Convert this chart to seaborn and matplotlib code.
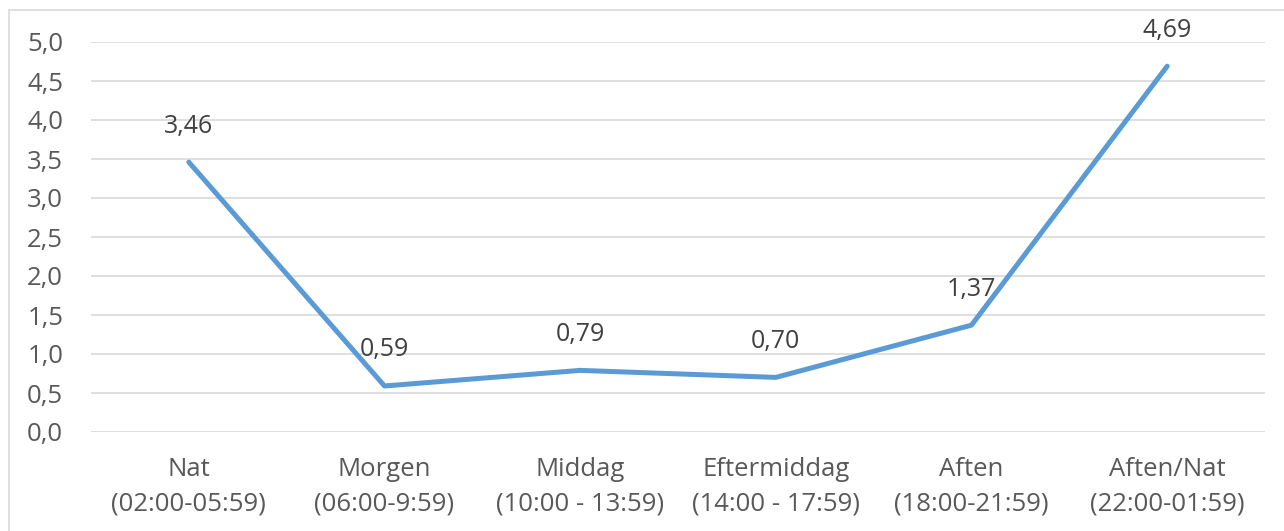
import matplotlib
matplotlib.use("Agg")
import matplotlib.pyplot as plt
import seaborn as sns
import pandas as pd
from matplotlib.patches import Rectangle

categories = ["Nat\n(02:00-05:59)", "Morgen\n(06:00-9:59)", "Middag\n(10:00 - 13:59)",
              "Eftermiddag\n(14:00 - 17:59)", "Aften\n(18:00-21:59)", "Aften/Nat\n(22:00-01:59)"]
values = [3.46, 0.59, 0.79, 0.70, 1.37, 4.69]
yticks = [0.0, 0.5, 1.0, 1.5, 2.0, 2.5, 3.0, 3.5, 4.0, 4.5, 5.0]

sns.set_style("white")
plt.rcParams['font.family'] = ['Open Sans', 'DejaVu Sans']
text_color = "#595959"

df = pd.DataFrame({"period": categories, "value": values})

fig = plt.figure(figsize=(12.84, 5.31), dpi=100)
ax = fig.add_axes([91 / 1284, 1 - 432 / 531, 1174 / 1284, 390 / 531])

sns.lineplot(data=df, x="period", y="value", sort=False, color="#5B9BD5",
             linewidth=3.6, solid_capstyle="round", ax=ax, zorder=3)

for i, v in enumerate(values):
    ax.annotate(f"{v:.2f}".replace(".", ","), (i, v), xytext=(0, 17),
                textcoords="offset points", ha="center", va="bottom",
                fontsize=18, color="#404040")

ax.set_xlim(-0.5, len(categories) - 0.5)
ax.set_ylim(0, 5)
ax.set_yticks(yticks)
ax.set_yticklabels([f"{t:.1f}".replace(".", ",") for t in yticks])
ax.grid(axis="y", color="#D9D9D9", linewidth=1.2)
ax.set_axisbelow(True)
ax.tick_params(axis="both", length=0, labelsize=18.5, labelcolor=text_color)
ax.tick_params(axis="y", pad=20)
ax.tick_params(axis="x", pad=18)
ax.set_xlabel("")
ax.set_ylabel("")
for s in ax.spines.values():
    s.set_visible(False)

fig.patches.append(Rectangle((9 / 1284, -0.01), 1.0, 1 - 10 / 531 + 0.01,
                             transform=fig.transFigure, fill=False,
                             edgecolor="#D9D9D9", linewidth=1.2))

fig.canvas.draw()
for lbl in ax.get_xticklabels():
    lbl.set_linespacing(1.5)

fig.savefig("out.png", dpi=100)
